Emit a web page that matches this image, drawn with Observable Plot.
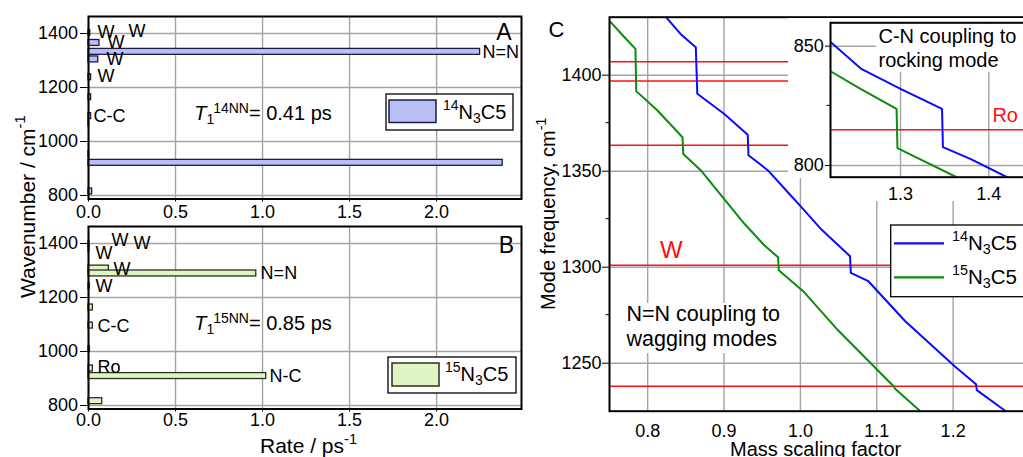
<!DOCTYPE html>
<html><head><meta charset="utf-8">
<script src="https://cdn.jsdelivr.net/npm/d3@7"></script>
<script src="https://cdn.jsdelivr.net/npm/@observablehq/plot@0.6"></script>
<style>
html,body{margin:0;padding:0;background:#fff;}
#wrap{position:relative;width:1023px;height:457px;overflow:hidden;background:#fff;}
</style></head><body><div id="wrap"></div>
<script>
// ---------- data: panels A / B (rates of each mode) ----------
const rateTicks = [0, 0.5, 1.0, 1.5, 2.0];
const wnTicks = [800, 1000, 1200, 1400];
const wn14   = [1402, 1365, 1332, 1304, 1238, 1164, 1094, 1068, 953, 921, 815];
const rate14 = [0.010, 0.063, 2.25, 0.056, 0.015, 0.015, 0.015, 0.004, 0.004, 2.38, 0.021];
const wn15   = [1399, 1381, 1307, 1289, 1242, 1163, 1096, 1009, 937, 909, 816];
const rate15 = [0.005, 0.005, 0.117, 0.964, 0.008, 0.025, 0.025, 0.008, 0.025, 1.021, 0.079];
const labels14 = ["W", "W", "W", "W", "W", "C-C", "N=N"];
const labelRate14 = [0.052, 0.230, 0.109, 0.103, 0.052, 0.029, 2.264];
const labelWn14 = [1405, 1407, 1368, 1304, 1241, 1093, 1331];
const labels15 = ["W", "W", "W", "W", "W", "C-C", "Ro", "N=N", "N-C"];
const labelRate15 = [0.040, 0.132, 0.259, 0.144, 0.040, 0.052, 0.052, 0.989, 1.040];
const labelWn15 = [1364, 1411, 1400, 1306, 1241, 1093, 940, 1290, 909];
const tau14 = "= 0.41 ps";
const tau15 = "= 0.85 ps";
const tauPos = [0.61, 1078];

// ---------- data: panel C (mode frequency vs mass scaling) ----------
const massTicks = [0.8, 0.9, 1.0, 1.1, 1.2];
const freqTicks = [1250, 1300, 1350, 1400];
const freqMinor = [1275, 1325, 1375];
const scale14 = [0.824, 0.843, 0.863, 0.865, 0.9, 0.931, 0.932, 0.9575, 0.988, 1.0013, 1.0276, 1.065, 1.066, 1.089, 1.137, 1.202, 1.230, 1.231, 1.269];
const freq14  = [1430.2, 1421.5, 1414.6, 1390.3, 1379.9, 1369, 1358.3, 1350.4, 1337.1, 1331.3, 1319.6, 1305.7, 1297, 1292.7, 1272, 1248.4, 1239, 1236, 1225];
const scale15 = [0.75, 0.769, 0.784, 0.785, 0.8128, 0.8456, 0.8466, 0.8697, 0.9, 0.9267, 0.953, 0.9707, 0.9717, 1.0036, 1.0496, 1.122, 1.124, 1.157];
const freq15  = [1428.3, 1420, 1413.7, 1391.7, 1381.6, 1367.7, 1359, 1350.4, 1335.6, 1322.6, 1311.3, 1305.2, 1298.4, 1287.5, 1267, 1238, 1236.7, 1225];
const redLevels = [1407, 1397, 1363.5, 1301, 1238];
const redLabel = ["W"], redLabelPos = [0.816, 1309];

// ---------- data: inset ----------
const insetTicksX = [1.3, 1.4];
const insetTicksY = [800, 850];
const insetMinor = [825];
const insetScale14 = [1.2207, 1.255, 1.3, 1.347, 1.348, 1.379, 1.4207];
const insetFreq14  = [851.8, 840.6, 832.1, 823.7, 807.7, 802.8, 795.1];
const insetScale15 = [1.2207, 1.2547, 1.2955, 1.2965, 1.3635];
const insetFreq15  = [839.5, 832.1, 823.7, 807.3, 795.1];
const insetRed = [815];
const insetRedLabel = ["Ro"], insetRedPos = [1.404, 821];

// ---------- styling ----------
const FONT = '"Liberation Sans", Arial, Helvetica, sans-serif';
const W = 1040, H = 457;
const GRID = "#a4a4a4";
const FILL14 = "#b8bef6", EDGE14 = "#1c1c40";
const FILL15 = "#dff5c4", EDGE15 = "#2a2f20";
const BLUE = "#0a0aff", GREEN = "#0c8c0c", RED = "#ff1010";
const HALF = 11;
const STYLE = {fontFamily: FONT, fontSize: "18px", background: "transparent", overflow: "visible",
  maxWidth: "none", position: "absolute", left: "0px", top: "0px", color: "black"};
const intFmt = d3.format("d");
const oneFmt = d3.format(".1f");
const wrap = document.getElementById("wrap");

function rich(svg, x, y, parts, size, opt = {}) {
  const t = d3.select(svg).append("text").attr("x", x).attr("y", y)
    .attr("font-size", size).attr("font-family", FONT).attr("fill", opt.fill || "black")
    .attr("text-anchor", opt.anchor || "start");
  if (opt.rotate) t.attr("transform", `rotate(-90 ${x} ${y})`);
  let cur = 0;
  for (const [s, k] of parts) {
    const target = k === "sup" ? -(opt.supShift || 0.42) * size : k === "sub" ? (opt.subShift || 0.2) * size : 0;
    const ts = t.append("tspan").attr("dy", target - cur).text(s);
    if (k === "sup" || k === "sub") ts.attr("font-size", size * 0.7);
    if (k === "i") ts.attr("font-style", "italic");
    cur = target;
  }
  return t;
}
function box(svg, x, y, w, h, fill, stroke, sw) {
  d3.select(svg).append("rect").attr("x", x).attr("y", y).attr("width", w).attr("height", h)
    .attr("fill", fill).attr("stroke", stroke || "none").attr("stroke-width", sw || 0);
}
function line(svg, x1, y1, x2, y2, stroke, sw) {
  d3.select(svg).append("line").attr("x1", x1).attr("y1", y1).attr("x2", x2).attr("y2", y2)
    .attr("stroke", stroke).attr("stroke-width", sw);
}

function panelAB(wns, rates, labs, labRates, labWns, top, bottom, fill, edge, xPad) {
  const bars = wns.map((wn, i) => ({wn, rate: rates[i]}));
  const texts = labs.map((label, i) => ({label, rate: labRates[i], wn: labWns[i]}));
  return Plot.plot({
    width: W, height: H, marginLeft: 88, marginRight: W - 521, marginTop: top, marginBottom: H - bottom,
    style: STYLE,
    x: {domain: [0, 2.488], ticks: rateTicks, tickFormat: oneFmt, tickSize: 3, tickPadding: xPad, label: null},
    y: {domain: [787, 1463], ticks: wnTicks, tickFormat: intFmt, tickSize: 8, tickPadding: 2.5, label: null},
    marks: [
      Plot.ruleX(rateTicks, {x: d => d, stroke: GRID, strokeWidth: 1.4}),
      Plot.ruleY(wnTicks, {y: d => d, stroke: GRID, strokeWidth: 1.4}),
      Plot.rect(bars, {x1: () => 0, x2: "rate", y1: d => d.wn - HALF, y2: d => d.wn + HALF, fill, stroke: edge, strokeWidth: 1.3}),
      Plot.text(texts, {x: "rate", y: "wn", text: "label", textAnchor: "start", lineAnchor: "middle", fontSize: 18, fill: "black"}),
      Plot.frame({stroke: "black", strokeWidth: 2})
    ]
  });
}

// Panel A
const pA = panelAB(wn14, rate14, labels14, labelRate14, labelWn14, 16, 198.5, FILL14, EDGE14, 3.5);
wrap.appendChild(pA);
{
  const x = pA.scale("x"), y = pA.scale("y");
  rich(pA, x.apply(tauPos[0]), y.apply(tauPos[1]), [["T", "i"], ["1", "sub"], ["14NN", "sup"], [tau14, ""]], 20, {supShift: 0.36, subShift: 0.22});
  box(pA, 386, 94, 127, 36, "white", "black", 1.3);
  box(pA, 389, 100, 47, 22.5, FILL14, EDGE14, 1.5);
  rich(pA, 443, 119.3, [["14", "sup"], ["N", ""], ["3", "sub"], ["C5", ""]], 20, {supShift: 0.46, subShift: 0.18});
  rich(pA, 504, 40, [["A", ""]], 23, {anchor: "middle"});
}

// Panel B
const pB = panelAB(wn15, rate15, labels15, labelRate15, labelWn15, 226, 408.5, FILL15, EDGE15, 1);
wrap.appendChild(pB);
{
  const x = pB.scale("x"), y = pB.scale("y");
  rich(pB, x.apply(tauPos[0]), y.apply(tauPos[1]), [["T", "i"], ["1", "sub"], ["15NN", "sup"], [tau15, ""]], 20, {supShift: 0.36, subShift: 0.22});
  box(pB, 388, 357, 128, 36, "white", "black", 1.3);
  box(pB, 392, 363, 47, 23, FILL15, EDGE15, 1.5);
  rich(pB, 445, 381, [["15", "sup"], ["N", ""], ["3", "sub"], ["C5", ""]], 20, {supShift: 0.46, subShift: 0.18});
  rich(pB, 506.5, 253.3, [["B", ""]], 23, {anchor: "middle"});
  rich(pB, 260, 453, [["Rate / ps", ""], ["-1", "sup"]], 21, {supShift: 0.45});
  rich(pB, 34.5, 298, [["Wavenumber / cm", ""], ["-1", "sup"]], 21, {rotate: true, supShift: 0.45});
}

// Panel C
const c14 = scale14.map((s, i) => ({s, f: freq14[i]}));
const c15 = scale15.map((s, i) => ({s, f: freq15[i]}));
const pC = Plot.plot({
  width: W, height: H, marginLeft: 609, marginRight: W - 1029, marginTop: 16.7, marginBottom: H - 410.7,
  style: STYLE,
  x: {domain: [0.75, 1.3], ticks: massTicks, tickFormat: oneFmt, tickSize: 0, tickPadding: 12.6, label: null},
  y: {domain: [1225, 1430.2], ticks: freqTicks, tickFormat: intFmt, tickSize: 7, tickPadding: 1, label: null},
  marks: [
    Plot.ruleX(massTicks, {x: d => d, stroke: GRID, strokeWidth: 1.4}),
    Plot.ruleY(freqTicks, {y: d => d, stroke: GRID, strokeWidth: 1.4}),
    Plot.ruleY(redLevels, {y: d => d, stroke: RED, strokeWidth: 1.5}),
    Plot.line(c14, {x: "s", y: "f", stroke: BLUE, strokeWidth: 2, clip: true}),
    Plot.line(c15, {x: "s", y: "f", stroke: GREEN, strokeWidth: 2, clip: true}),
    Plot.text(redLabel, {x: () => redLabelPos[0], y: () => redLabelPos[1], text: d => d, textAnchor: "start", lineAnchor: "middle", fontSize: 24, fill: RED}),
    Plot.frame({stroke: "black", strokeWidth: 2})
  ]
});
wrap.appendChild(pC);
{
  const y = pC.scale("y"), x = pC.scale("x");
  for (const v of freqMinor) line(pC, x.apply(0.75) - 3.5, y.apply(v), x.apply(0.75), y.apply(v), "black", 1);
  box(pC, 622, 303, 168, 50, "white");
  rich(pC, 626.5, 321, [["N=N coupling to", ""]], 21.5);
  rich(pC, 626.5, 346, [["wagging modes", ""]], 21.5);
  box(pC, 890.7, 225, 150, 71.7, "white", "black", 1.3);
  line(pC, 894, 243.3, 944, 243.3, BLUE, 2.2);
  line(pC, 894, 277.3, 944, 277.3, GREEN, 2.2);
  rich(pC, 952, 250, [["14", "sup"], ["N", ""], ["3", "sub"], ["C5", ""]], 20.5, {supShift: 0.46, subShift: 0.18});
  rich(pC, 952, 284, [["15", "sup"], ["N", ""], ["3", "sub"], ["C5", ""]], 20.5, {supShift: 0.46, subShift: 0.18});
  rich(pC, 556.5, 36.7, [["C", ""]], 22, {anchor: "middle"});
  rich(pC, 730, 456, [["Mass scaling factor", ""]], 20);
  rich(pC, 555, 310, [["Mode frequency, cm", ""], ["-1", "sup"]], 20, {rotate: true, supShift: 0.45});
}

// Inset
const i14 = insetScale14.map((s, i) => ({s, f: insetFreq14[i]}));
const i15 = insetScale15.map((s, i) => ({s, f: insetFreq15[i]}));
const pI = Plot.plot({
  width: W, height: H, marginLeft: 830, marginRight: W - 1032.5, marginTop: 22.3, marginBottom: H - 176.7,
  style: STYLE,
  x: {domain: [1.2207, 1.45], ticks: insetTicksX, tickFormat: oneFmt, tickSize: 0, tickPadding: 10, label: null},
  y: {domain: [795.1, 859.8], ticks: insetTicksY, tickFormat: intFmt, tickSize: 5, tickPadding: 1.7, label: null},
  marks: [
    Plot.ruleX(insetTicksX, {x: d => d, stroke: GRID, strokeWidth: 1.4}),
    Plot.ruleY(insetTicksY, {y: d => d, stroke: GRID, strokeWidth: 1.4}),
    Plot.ruleY(insetRed, {y: d => d, stroke: RED, strokeWidth: 1.5}),
    Plot.line(i14, {x: "s", y: "f", stroke: BLUE, strokeWidth: 2, clip: true}),
    Plot.line(i15, {x: "s", y: "f", stroke: GREEN, strokeWidth: 2, clip: true}),
    Plot.text(insetRedLabel, {x: () => insetRedPos[0], y: () => insetRedPos[1], text: d => d, textAnchor: "start", lineAnchor: "middle", fontSize: 20, fill: RED}),
    Plot.frame({stroke: "black", strokeWidth: 2})
  ]
});
wrap.appendChild(pI);
{
  const y = pI.scale("y"), x = pI.scale("x");
  const sel = d3.select(pI);
  sel.insert("rect", ":first-child").attr("x", 830).attr("y", 176).attr("width", 220).attr("height", 25).attr("fill", "white");
  sel.insert("rect", ":first-child").attr("x", 788).attr("y", 18).attr("width", 260).attr("height", 160).attr("fill", "white");
  for (const v of insetMinor) line(pI, x.apply(1.2207) - 3.5, y.apply(v), x.apply(1.2207), y.apply(v), "black", 1);
  box(pI, 876, 24, 160, 48, "white");
  rich(pI, 878.5, 43.3, [["C-N coupling to", ""]], 20);
  rich(pI, 878.5, 66.7, [["rocking mode", ""]], 20);
}
</script></body></html>
